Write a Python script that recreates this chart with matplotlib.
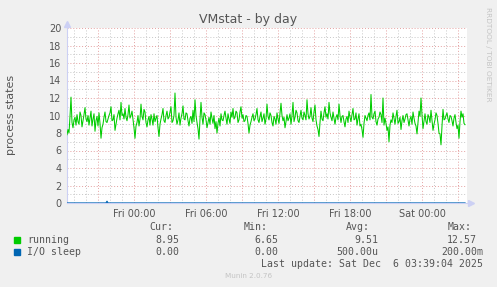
import matplotlib.pyplot as plt
import numpy as np

W, H = 497, 287

# running processes, 5-minute samples from Thu 18:25 onward
running = [
    7.8, 8.4, 8.0, 9.9, 12.1, 9.2, 8.6, 9.5, 9.8, 8.9, 10.1, 9.3, 9.0, 10.4, 10.0, 8.7, 9.4, 10.1, 10.9, 9.6,
    9.3, 10.0, 8.9, 9.7, 10.5, 8.8, 9.6, 10.2, 8.2, 9.4, 9.9, 8.8, 10.3, 9.1, 7.4, 8.6, 9.0, 9.8, 10.4, 9.3,
    9.2, 9.6, 10.0, 10.3, 11.0, 9.4, 9.5, 10.1, 8.3, 9.0, 9.7, 10.2, 10.6, 9.5, 11.5, 10.0, 10.2, 9.6, 10.8, 9.8,
    9.4, 10.1, 11.2, 9.7, 10.0, 10.5, 9.6, 8.6, 7.4, 8.8, 9.2, 10.0, 8.8, 9.6, 11.3, 9.9, 9.5, 10.7, 10.4, 9.2,
    8.7, 9.5, 9.9, 8.9, 10.1, 9.6, 8.9, 10.2, 9.3, 9.7, 10.0, 8.6, 7.6, 9.0, 9.6, 10.1, 10.8, 9.4, 9.2, 10.0,
    10.5, 9.6, 9.8, 10.4, 11.0, 9.2, 9.4, 10.0, 12.57, 9.8, 9.0, 9.5, 10.3, 8.9, 9.7, 10.2, 11.1, 9.6, 9.5, 10.3,
    10.2, 9.4, 8.8, 9.7, 9.9, 9.1, 10.6, 9.3, 11.8, 10.0, 9.2, 8.5, 7.3, 9.6, 11.5, 9.8, 9.0, 10.3, 10.1, 9.5,
    8.6, 9.2, 9.8, 9.0, 10.4, 9.7, 9.1, 10.0, 8.5, 9.3, 8.0, 9.1, 9.7, 8.8, 10.2, 9.5, 9.4, 10.0, 10.5, 9.7,
    9.0, 10.2, 9.6, 9.1, 10.4, 9.8, 10.8, 9.6, 9.8, 10.5, 10.3, 9.2, 9.5, 10.4, 11.0, 9.7, 10.1, 9.3, 9.4, 10.0,
    9.9, 9.1, 8.0, 8.9, 9.3, 9.8, 10.2, 9.4, 9.6, 10.1, 10.8, 9.5, 9.2, 9.9, 10.4, 9.3, 9.7, 10.2, 9.0, 9.6,
    11.3, 9.9, 9.5, 10.3, 10.0, 9.2, 8.8, 9.9, 9.6, 9.0, 10.3, 9.6, 9.1, 10.2, 11.4, 10.0, 9.4, 9.8, 8.6, 9.3,
    10.1, 9.4, 9.7, 10.2, 9.0, 10.0, 11.5, 9.3, 9.8, 10.6, 10.3, 9.4, 9.2, 9.9, 10.6, 9.7, 9.5, 10.4, 10.0, 9.5,
    11.8, 10.2, 9.6, 9.9, 10.9, 9.7, 9.3, 10.4, 11.2, 9.5, 8.8, 8.4, 7.6, 9.2, 10.5, 9.6, 9.4, 10.3, 11.0, 9.8,
    10.2, 9.6, 11.5, 10.3, 9.8, 9.4, 10.4, 9.7, 9.0, 9.8, 10.1, 9.5, 11.3, 10.0, 9.2, 9.9, 10.0, 9.3, 8.7, 9.6,
    9.9, 9.2, 10.5, 9.8, 9.3, 10.1, 10.8, 9.5, 9.6, 10.3, 8.9, 9.6, 10.2, 8.8, 9.0, 8.4, 7.5, 9.1, 10.0, 9.7,
    9.4, 10.0, 10.3, 9.5, 12.4, 9.8, 9.6, 10.2, 10.5, 9.3, 8.9, 9.6, 9.8, 10.4, 10.1, 9.2, 12.0, 8.9, 9.7, 9.1,
    8.3, 8.7, 7.0, 8.9, 9.5, 9.2, 10.3, 9.7, 9.0, 9.9, 10.6, 9.1, 9.3, 9.8, 8.4, 9.4, 10.0, 9.2, 9.6, 10.1,
    10.2, 9.5, 8.8, 9.6, 9.9, 9.0, 10.4, 9.7, 9.1, 8.8, 7.9, 9.2, 10.5, 9.9, 12.0, 10.1, 8.5, 9.4, 10.2, 9.3,
    9.0, 10.1, 9.8, 9.2, 10.6, 9.4, 8.3, 9.0, 9.5, 10.3, 10.0, 9.1, 8.0, 7.9, 6.65, 8.8, 10.7, 9.5, 9.6, 10.0,
    10.3, 9.6, 9.2, 10.0, 9.9, 9.4, 8.8, 9.7, 10.1, 9.2, 8.5, 8.9, 7.4, 9.3, 10.5, 9.8, 10.2, 9.1, 8.95,
]
# I/O sleep: one blip of 0.2 early on, zero otherwise
io_sleep = [0.0] * 40 + [0.2] + [0.0] * 358

tick_hours = [0, 6, 12, 18, 24]
tick_labels = ["Fri 00:00", "Fri 06:00", "Fri 12:00", "Fri 18:00", "Sat 00:00"]

legend_names = ["running", "I/O sleep"]
legend_colors = ["#00cc00", "#0066b3"]
cur_vals = ["8.95", "0.00"]
min_vals = ["6.65", "0.00"]
avg_vals = ["9.51", "500.00u"]
max_vals = ["12.57", "200.00m"]

start_hour = -5 - 35 / 60.0   # Thu 18:25 relative to Fri 00:00
end_hour = 27.75
t = start_hour + np.arange(len(running)) / 12.0
t_io = start_hour + np.arange(len(io_sleep)) / 12.0

fig = plt.figure(figsize=(W / 100, H / 100), dpi=100, facecolor="#f0f0f0")
ax = fig.add_axes([67 / W, (H - 203) / H, 400 / W, 175 / H])
ax.set_facecolor("white")
ax.set_xlim(start_hour, end_hour)
ax.set_ylim(0, 20)

# grid: grey minor, red major, both dotted
for h in range(-5, 28):
    c = "#e4a0a0" if h % 3 == 0 else "#c8c8c8"
    ax.axvline(h, color=c, lw=0.7, ls=(0, (1, 2)), zorder=1)
for v in range(1, 21):
    c = "#e4a0a0" if v % 2 == 0 else "#c8c8c8"
    ax.axhline(v, color=c, lw=0.7, ls=(0, (1, 2)), zorder=1)

ax.plot(t, running, color="#00cc00", lw=0.75, zorder=3)
ax.plot(t_io, io_sleep, color="#0066b3", lw=0.9, zorder=4)

for s in ["top", "right"]:
    ax.spines[s].set_visible(False)
ax.spines["left"].set_color("#ccd0f4")
ax.spines["bottom"].set_color("#ccd0f4")
ax.spines["left"].set_linewidth(0.8)

ax.set_xticks(tick_hours)
ax.set_xticklabels(tick_labels)
ax.set_yticks(range(0, 21, 2))
ax.tick_params(length=0, labelsize=7, colors="#555555", pad=4)

# little arrow heads at the axis ends
ax.plot([0], [1.025], marker="^", ms=4.5, color="#ccd0f4", transform=ax.transAxes, clip_on=False)
ax.plot([1.01], [0], marker=">", ms=4.5, color="#ccd0f4", transform=ax.transAxes, clip_on=False)

def px(x, y):
    return x / W, 1 - y / H

fig.text(*px(248, 19), "VMstat - by day", ha="center", va="center", fontsize=9, color="#555555")
fig.text(*px(11, 115), "process states", ha="center", va="center", rotation=90, fontsize=8, color="#555555")
fig.text(*px(488, 54), "RRDTOOL / TOBI OETIKER", ha="center", va="center", rotation=270, fontsize=5.3, color="#c4c4c4")

mono = dict(family="DejaVu Sans Mono", fontsize=7.1, color="#555555", va="center")
fig.text(*px(173, 227), "Cur:", ha="right", **mono)
fig.text(*px(268, 227), "Min:", ha="right", **mono)
fig.text(*px(370, 227), "Avg:", ha="right", **mono)
fig.text(*px(472, 227), "Max:", ha="right", **mono)

for i, name in enumerate(legend_names):
    y = 240 + 12 * i
    fig.patches.append(plt.Rectangle(px(14, y + 3), 6 / W, 6 / H, transform=fig.transFigure,
                                     color=legend_colors[i], figure=fig))
    fig.text(*px(27, y), name, ha="left", **mono)
    fig.text(*px(179, y), cur_vals[i], ha="right", **mono)
    fig.text(*px(278, y), min_vals[i], ha="right", **mono)
    fig.text(*px(378, y), avg_vals[i], ha="right", **mono)
    fig.text(*px(483 if max_vals[i].endswith("m") else 477, y), max_vals[i], ha="right", **mono)

fig.text(*px(483, 264), "Last update: Sat Dec  6 03:39:04 2025", ha="right", **mono)
fig.text(*px(249, 276), "Munin 2.0.76", ha="center", va="center", fontsize=5.2, color="#c4c4c4")

fig.savefig("out.png", dpi=100, facecolor=fig.get_facecolor())
